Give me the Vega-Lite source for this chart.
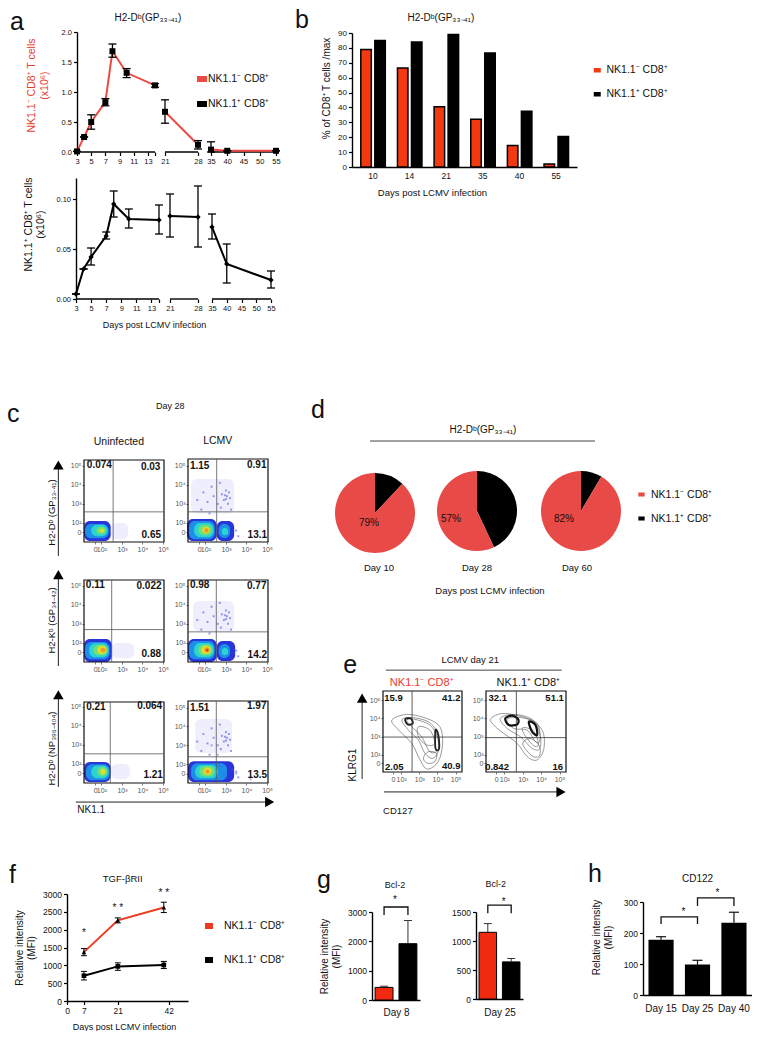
{"$schema":"https://vega.github.io/schema/vega-lite/v6.json","padding":0,"background":"white","bounds":"flush","spacing":0,
"resolve":{"scale":{"color":"independent","shape":"independent","strokeWidth":"independent"},"legend":{"color":"independent","shape":"independent","strokeWidth":"independent"}},
"datasets":{"one":[{}],"none":[],
"a1":[{"d":3,"v":0.01,"lo":0.01,"hi":0.01,"g":1,"s":"NK1.1⁻ CD8⁺"},{"d":4,"v":0.25,"lo":0.25,"hi":0.25,"g":1,"s":"NK1.1⁻ CD8⁺"},{"d":5,"v":0.5,"lo":0.38,"hi":0.62,"g":1,"s":"NK1.1⁻ CD8⁺"},{"d":7,"v":0.83,"lo":0.77,"hi":0.89,"g":1,"s":"NK1.1⁻ CD8⁺"},{"d":8,"v":1.68,"lo":1.58,"hi":1.8,"g":1,"s":"NK1.1⁻ CD8⁺"},{"d":10,"v":1.32,"lo":1.24,"hi":1.39,"g":1,"s":"NK1.1⁻ CD8⁺"},{"d":14,"v":1.11,"lo":1.08,"hi":1.14,"g":1,"s":"NK1.1⁻ CD8⁺"},{"d":21,"v":0.67,"lo":0.48,"hi":0.87,"g":2,"s":"NK1.1⁻ CD8⁺"},{"d":28,"v":0.12,"lo":0.05,"hi":0.19,"g":2,"s":"NK1.1⁻ CD8⁺"},{"d":35,"v":0.04,"lo":0,"hi":0.17,"g":3,"s":"NK1.1⁻ CD8⁺"},{"d":40,"v":0.02,"lo":0.02,"hi":0.02,"g":3,"s":"NK1.1⁻ CD8⁺"},{"d":55,"v":0.02,"lo":0.02,"hi":0.02,"g":3,"s":"NK1.1⁻ CD8⁺"}],
"a2":[{"d":3,"v":0.005,"lo":0.005,"hi":0.005,"g":1},{"d":4,"v":0.03,"lo":0.03,"hi":0.03,"g":1},{"d":5,"v":0.042,"lo":0.034,"hi":0.051,"g":1},{"d":7,"v":0.063,"lo":0.06,"hi":0.067,"g":1},{"d":8,"v":0.095,"lo":0.082,"hi":0.108,"g":1},{"d":10,"v":0.08,"lo":0.071,"hi":0.09,"g":1},{"d":14,"v":0.079,"lo":0.065,"hi":0.094,"g":1},{"d":21,"v":0.083,"lo":0.062,"hi":0.105,"g":2},{"d":28,"v":0.082,"lo":0.052,"hi":0.113,"g":2},{"d":35,"v":0.072,"lo":0.06,"hi":0.085,"g":3},{"d":40,"v":0.035,"lo":0.016,"hi":0.055,"g":3},{"d":55,"v":0.019,"lo":0.011,"hi":0.028,"g":3}],
"seg":[{"a":3,"b":14},{"a":21,"b":28},{"a":35,"b":55}],
"scA":[{"x":1.6,"y":3.2},{"x":1.9,"y":3.6},{"x":2.1,"y":3.1},{"x":2.3,"y":3.9},{"x":2.4,"y":3.4},{"x":2.6,"y":3.0},{"x":2.7,"y":4.1},{"x":2.8,"y":3.5},{"x":2.9,"y":3.2},{"x":3.0,"y":3.7},{"x":3.05,"y":3.4},{"x":3.1,"y":3.0},{"x":3.15,"y":3.6},{"x":3.2,"y":3.3},{"x":2.95,"y":3.45},{"x":3.0,"y":3.25},{"x":2.75,"y":2.8},{"x":3.25,"y":2.7},{"x":1.8,"y":2.7},{"x":2.2,"y":2.5},{"x":3.5,"y":1.6},{"x":3.6,"y":1.3}],
"scB":[{"x":3.0,"y":1.3},{"x":3.3,"y":1.7},{"x":3.5,"y":1.5},{"x":2.7,"y":1.9},{"x":2.9,"y":1.5},{"x":4.2,"y":1.2},{"x":2.3,"y":3.0},{"x":2.6,"y":2.5}],
"e1":[{"c":"a","o":1,"x":1.49,"y":3.91,"l":1},{"c":"a","o":2,"x":2.31,"y":4.22,"l":1},{"c":"a","o":3,"x":3.4,"y":4.0,"l":1},{"c":"a","o":4,"x":4.13,"y":3.55,"l":1},{"c":"a","o":5,"x":4.28,"y":2.64,"l":1},{"c":"a","o":6,"x":4.04,"y":1.64,"l":1},{"c":"a","o":7,"x":3.44,"y":1.23,"l":1},{"c":"a","o":8,"x":3.04,"y":1.73,"l":1},{"c":"a","o":9,"x":2.58,"y":2.64,"l":1},{"c":"a","o":10,"x":1.85,"y":3.37,"l":1},
{"c":"b","o":1,"x":2.04,"y":3.91,"l":1},{"c":"b","o":2,"x":2.58,"y":4.05,"l":1},{"c":"b","o":3,"x":3.49,"y":3.82,"l":1},{"c":"b","o":4,"x":3.95,"y":3.27,"l":1},{"c":"b","o":5,"x":4.09,"y":2.36,"l":1},{"c":"b","o":6,"x":3.76,"y":1.82,"l":1},{"c":"b","o":7,"x":3.31,"y":2.09,"l":1},{"c":"b","o":8,"x":2.95,"y":2.82,"l":1},{"c":"b","o":9,"x":2.4,"y":3.36,"l":1},
{"c":"c","o":1,"x":2.31,"y":3.91,"l":1},{"c":"c","o":2,"x":2.76,"y":3.95,"l":1},{"c":"c","o":3,"x":3.58,"y":3.64,"l":1},{"c":"c","o":4,"x":3.98,"y":3.0,"l":1},{"c":"c","o":5,"x":4.04,"y":2.27,"l":1},{"c":"c","o":6,"x":3.58,"y":2.18,"l":1},{"c":"c","o":7,"x":3.13,"y":3.0,"l":1},{"c":"c","o":8,"x":2.58,"y":3.55,"l":1},
{"c":"d","o":1,"x":2.95,"y":3.55,"l":1},{"c":"d","o":2,"x":3.58,"y":3.36,"l":1},{"c":"d","o":3,"x":3.85,"y":2.64,"l":1},{"c":"d","o":4,"x":3.4,"y":2.55,"l":1},{"c":"d","o":5,"x":2.95,"y":3.0,"l":1},
{"c":"e","o":1,"x":3.22,"y":1.82,"l":1},{"c":"e","o":2,"x":3.44,"y":1.55,"l":1},{"c":"e","o":3,"x":3.85,"y":1.64,"l":1},{"c":"e","o":4,"x":3.95,"y":2.09,"l":1},{"c":"e","o":5,"x":3.49,"y":2.18,"l":1},
{"c":"f","o":1,"x":2.22,"y":3.95,"l":2},{"c":"f","o":2,"x":2.53,"y":4.0,"l":2},{"c":"f","o":3,"x":2.64,"y":3.73,"l":2},{"c":"f","o":4,"x":2.36,"y":3.67,"l":2},
{"c":"g","o":1,"x":3.89,"y":3.36,"l":2},{"c":"g","o":2,"x":4.05,"y":3.09,"l":2},{"c":"g","o":3,"x":4.09,"y":2.36,"l":2},{"c":"g","o":4,"x":3.89,"y":2.36,"l":2}],
"e2":[{"c":"a","o":1,"x":1.27,"y":4.0,"l":1},{"c":"a","o":2,"x":1.96,"y":4.27,"l":1},{"c":"a","o":3,"x":3.24,"y":4.0,"l":1},{"c":"a","o":4,"x":4.05,"y":3.36,"l":1},{"c":"a","o":5,"x":4.15,"y":2.36,"l":1},{"c":"a","o":6,"x":3.78,"y":1.73,"l":1},{"c":"a","o":7,"x":3.24,"y":1.91,"l":1},{"c":"a","o":8,"x":2.69,"y":2.64,"l":1},{"c":"a","o":9,"x":1.96,"y":3.18,"l":1},{"c":"a","o":10,"x":1.42,"y":3.64,"l":1},
{"c":"b","o":1,"x":1.78,"y":4.0,"l":1},{"c":"b","o":2,"x":2.51,"y":4.22,"l":1},{"c":"b","o":3,"x":3.51,"y":3.95,"l":1},{"c":"b","o":4,"x":3.93,"y":3.18,"l":1},{"c":"b","o":5,"x":3.93,"y":2.36,"l":1},{"c":"b","o":6,"x":3.51,"y":2.36,"l":1},{"c":"b","o":7,"x":2.87,"y":3.0,"l":1},{"c":"b","o":8,"x":2.15,"y":3.45,"l":1},
{"c":"c","o":1,"x":2.15,"y":3.95,"l":1},{"c":"c","o":2,"x":2.87,"y":4.05,"l":1},{"c":"c","o":3,"x":3.78,"y":3.73,"l":1},{"c":"c","o":4,"x":3.93,"y":2.82,"l":1},{"c":"c","o":5,"x":3.69,"y":2.73,"l":1},{"c":"c","o":6,"x":3.24,"y":3.36,"l":1},{"c":"c","o":7,"x":2.51,"y":3.45,"l":1},
{"c":"d","o":1,"x":3.0,"y":3.5,"l":1},{"c":"d","o":2,"x":3.6,"y":3.3,"l":1},{"c":"d","o":3,"x":3.85,"y":2.6,"l":1},{"c":"d","o":4,"x":3.6,"y":2.5,"l":1},{"c":"d","o":5,"x":3.1,"y":3.1,"l":1},
{"c":"e","o":1,"x":3.0,"y":2.6,"l":1},{"c":"e","o":2,"x":3.5,"y":1.95,"l":1},{"c":"e","o":3,"x":3.9,"y":1.95,"l":1},{"c":"e","o":4,"x":3.9,"y":2.5,"l":1},{"c":"e","o":5,"x":3.4,"y":2.9,"l":1},
{"c":"f","o":1,"x":2.05,"y":4.0,"l":2},{"c":"f","o":2,"x":2.42,"y":4.15,"l":2},{"c":"f","o":3,"x":2.75,"y":3.95,"l":2},{"c":"f","o":4,"x":2.69,"y":3.67,"l":2},{"c":"f","o":5,"x":2.24,"y":3.64,"l":2},
{"c":"g","o":1,"x":3.33,"y":3.82,"l":2},{"c":"g","o":2,"x":3.69,"y":3.64,"l":2},{"c":"g","o":3,"x":3.78,"y":3.09,"l":2},{"c":"g","o":4,"x":3.51,"y":3.27,"l":2}]
},
"config":{"font":"Liberation Sans","view":{"stroke":null},
"axis":{"grid":false,"domainColor":"black","tickColor":"black","domainWidth":1.4,"tickWidth":1.2,"tickSize":3.5,"labelColor":"#111","titleColor":"#111","labelFontSize":8,"titleFontSize":10,"titleFontWeight":"normal","labelPadding":2,"labelFlush":false},
"legend":{"labelFontSize":10.5,"labelColor":"#111","labelLimit":200,"symbolOpacity":1},
"text":{"fontSize":10,"color":"#111"},
"style":{"flow":{"domain":false,"labelFontSize":7,"labelColor":"#555","tickColor":"#555","tickSize":2,"tickWidth":0.8,"labelPadding":1,"titleFontSize":9.5}}},
"vconcat":[
{"bounds":"flush","spacing":0,"resolve":{"scale":{"color":"independent"},"legend":{"color":"independent"}},"hconcat":[
{"width":77,"height":1,"data":{"name":"none"},"mark":"rect"},
{"width":275,"height":152,"data":{"name":"a1"},"layer":[
{"data":{"name":"seg"},"mark":{"type":"rule","color":"black","strokeWidth":1.4},"encoding":{"x":{"field":"a","type":"quantitative","scale":{"domain":[3,14,21,28,35,55],"range":[0,78,88,121,134,199],"nice":false,"zero":false},"axis":{"values":[3,5,7,9,11,13,14,21,28,35,40,45,50,55],"tickCount":30,"labelExpr":"datum.value==14?'':datum.value","domain":false,"title":null,"labelFontSize":7.5,"labelOverlap":false}},"x2":{"field":"b"},"y":{"datum":0,"scale":{"domain":[0,2],"range":[152,32],"nice":false},"axis":{"values":[0,0.5,1,1.5,2],"tickCount":30,"format":".1f","title":["NK1.1⁻ CD8⁺ T cells","(x10⁶)"],"titleColor":"#e8402f","titleFontSize":10.5,"titleY":85,"titlePadding":12,"labelFontSize":7.5,"labelOverlap":false}}}},
{"mark":{"type":"line","strokeWidth":2},"encoding":{"x":{"field":"d","type":"quantitative"},"y":{"field":"v","type":"quantitative"},"detail":{"field":"g"},"color":{"field":"s","type":"nominal","scale":{"domain":["NK1.1⁻ CD8⁺","NK1.1⁺ CD8⁺"],"range":["#ee4a44","black"]},"legend":{"title":null,"orient":"none","legendX":117,"legendY":71,"symbolType":"stroke","symbolSize":100,"symbolStrokeWidth":6,"rowPadding":1,"labelOffset":-2}}}},
{"mark":{"type":"rule","color":"black","strokeWidth":1.3},"encoding":{"x":{"field":"d","type":"quantitative"},"y":{"field":"lo","type":"quantitative"},"y2":{"field":"hi"}}},
{"mark":{"type":"tick","orient":"horizontal","size":8,"thickness":1.3,"color":"black","opacity":1},"encoding":{"x":{"field":"d","type":"quantitative"},"y":{"field":"lo","type":"quantitative"}}},
{"mark":{"type":"tick","orient":"horizontal","size":8,"thickness":1.3,"color":"black","opacity":1},"encoding":{"x":{"field":"d","type":"quantitative"},"y":{"field":"hi","type":"quantitative"}}},
{"mark":{"type":"point","shape":"square","filled":true,"color":"black","size":36,"opacity":1},"encoding":{"x":{"field":"d","type":"quantitative"},"y":{"field":"v","type":"quantitative"}}},
{"data":{"name":"one"},"mark":{"type":"text","text":"H2-Dᵇ(GP₃₃₋₄₁)","fontSize":10,"dy":-14},"encoding":{"x":{"datum":13},"y":{"datum":2}}},
{"data":{"name":"one"},"mark":{"type":"text","text":"a","fontSize":25,"dx":-60,"dy":-10},"encoding":{"x":{"datum":3},"y":{"datum":2}}}]},
{"width":225,"height":167,"data":{"values":[{"d":"10","s":"NK1.1⁻ CD8⁺","v":79},{"d":"10","s":"NK1.1⁺ CD8⁺","v":85},{"d":"14","s":"NK1.1⁻ CD8⁺","v":66.5},{"d":"14","s":"NK1.1⁺ CD8⁺","v":84},{"d":"21","s":"NK1.1⁻ CD8⁺","v":40.5},{"d":"21","s":"NK1.1⁺ CD8⁺","v":89},{"d":"35","s":"NK1.1⁻ CD8⁺","v":32},{"d":"35","s":"NK1.1⁺ CD8⁺","v":76.5},{"d":"40","s":"NK1.1⁻ CD8⁺","v":14.5},{"d":"40","s":"NK1.1⁺ CD8⁺","v":37.5},{"d":"55","s":"NK1.1⁻ CD8⁺","v":2},{"d":"55","s":"NK1.1⁺ CD8⁺","v":20.5}]},"layer":[
{"mark":{"type":"bar","width":10.5,"stroke":"black","strokeWidth":1.5},"encoding":{"x":{"field":"d","type":"nominal","scale":{"domain":["10","14","21","35","40","55"],"range":[0,225],"paddingInner":0,"paddingOuter":0.07},"axis":{"labelAngle":0,"ticks":false,"title":"Days post LCMV infection","titleX":80,"titleFontSize":9.5,"titlePadding":8,"labelFontSize":8.5,"labelPadding":4}},"xOffset":{"field":"s","scale":{"domain":["NK1.1⁻ CD8⁺","NK1.1⁺ CD8⁺"],"range":[4.5,32.5]}},"y":{"field":"v","type":"quantitative","stack":null,"scale":{"domain":[0,90],"range":[167,33],"nice":false},"axis":{"values":[0,10,20,30,40,50,60,70,80,90],"tickCount":30,"title":"% of CD8⁺ T cells /max","titleY":88,"titlePadding":6,"labelFontSize":8,"labelOverlap":false}},"color":{"field":"s","type":"nominal","scale":{"domain":["NK1.1⁻ CD8⁺","NK1.1⁺ CD8⁺"],"range":["#f23a10","black"]},"legend":{"title":null,"orient":"none","legendX":240,"legendY":65,"symbolType":"M-0.7,-0.45H0.7V0.45H-0.7Z","symbolSize":100,"rowPadding":13,"symbolStrokeWidth":0}}}},
{"data":{"name":"one"},"mark":{"type":"text","text":"H2-Dᵇ(GP₃₃₋₄₁)","fontSize":10,"dx":68,"dy":-15},"encoding":{"x":{"datum":"10"},"y":{"datum":90}}},
{"data":{"name":"one"},"mark":{"type":"text","text":"b","fontSize":25,"dx":-71,"dy":-13},"encoding":{"x":{"datum":"10"},"y":{"datum":90}}}]}]},

{"bounds":"flush","spacing":0,"hconcat":[
{"width":76,"height":1,"data":{"name":"none"},"mark":"rect"},
{"width":200,"height":299,"data":{"name":"a2"},"layer":[
{"data":{"name":"seg"},"mark":{"type":"rule","color":"black","strokeWidth":1.4},"encoding":{"x":{"field":"a","type":"quantitative","scale":{"domain":[3,14,21,28,35,55],"range":[0,83,94,122,136,195],"nice":false,"zero":false},"axis":{"values":[3,5,7,9,11,13,14,21,28,35,40,45,50,55],"tickCount":30,"labelExpr":"datum.value==14?'':datum.value","domain":false,"title":"Days post LCMV infection","titleX":78,"titleFontSize":9,"titlePadding":8,"labelFontSize":7.5,"labelOverlap":false}},"x2":{"field":"b"},"y":{"datum":0,"scale":{"domain":[0,0.121],"range":[299,178],"nice":false},"axis":{"values":[0,0.05,0.1],"tickCount":30,"format":".2f","title":["NK1.1⁺ CD8⁺ T cells","(x10⁶)"],"titleFontSize":10.5,"titleY":224,"titlePadding":10,"labelFontSize":7.5,"labelOverlap":false}}}},
{"mark":{"type":"line","strokeWidth":2,"color":"black"},"encoding":{"x":{"field":"d","type":"quantitative"},"y":{"field":"v","type":"quantitative"},"detail":{"field":"g"}}},
{"mark":{"type":"rule","color":"black","strokeWidth":1.3},"encoding":{"x":{"field":"d","type":"quantitative"},"y":{"field":"lo","type":"quantitative"},"y2":{"field":"hi"}}},
{"mark":{"type":"tick","orient":"horizontal","size":8,"thickness":1.3,"color":"black","opacity":1},"encoding":{"x":{"field":"d","type":"quantitative"},"y":{"field":"lo","type":"quantitative"}}},
{"mark":{"type":"tick","orient":"horizontal","size":8,"thickness":1.3,"color":"black","opacity":1},"encoding":{"x":{"field":"d","type":"quantitative"},"y":{"field":"hi","type":"quantitative"}}},
{"mark":{"type":"point","shape":"diamond","filled":true,"color":"black","size":28,"opacity":1},"encoding":{"x":{"field":"d","type":"quantitative"},"y":{"field":"v","type":"quantitative"}}}]}]},

{"bounds":"flush","spacing":0,"resolve":{"scale":{"color":"independent"},"legend":{"color":"independent"}},"hconcat":[
{"width":84,"height":1,"data":{"name":"none"},"mark":"rect"},
{"width":104,"height":542,"layer":[
{"data":{"values":[{"x0":2.45,"x1":3.3,"y0":1.15,"y1":2.0,"l":0},{"x0":1.15,"x1":2.45,"y0":1.05,"y1":2.1,"l":1},{"x0":1.2,"x1":2.35,"y0":1.2,"y1":1.95,"l":2},{"x0":1.5,"x1":2.3,"y0":1.3,"y1":1.9,"l":3},{"x0":1.75,"x1":2.2,"y0":1.4,"y1":1.8,"l":4},{"x0":1.9,"x1":2.15,"y0":1.5,"y1":1.7,"l":5}]},"mark":{"type":"rect","cornerRadius":6},"encoding":{"x":{"field":"x0","type":"quantitative","scale":{"domain":[1.15,5.05],"range":[0,80],"nice":false,"zero":false},"axis":{"style":"flow","labelOverlap":false,"tickCount":30,"values":[1.7,2,3,4,5],"labelExpr":"datum.value<2?'0':'10'+['²','³','⁴','⁵'][datum.value-2]","title":null}},"x2":{"field":"x1"},"y":{"field":"y0","type":"quantitative","scale":{"domain":[1,5.3],"range":[542,460],"nice":false,"zero":false},"axis":{"style":"flow","labelOverlap":false,"tickCount":30,"values":[1.5,2,3,4,5],"labelExpr":"datum.value<2?'0':'10'+['²','³','⁴','⁵'][datum.value-2]","title":"H2-Dᵇ (GP₃₃₋₄₁)","titleY":512,"titlePadding":14}},"y2":{"field":"y1"},"color":{"field":"l","type":"ordinal","scale":{"domain":[0,1,2,3,4,5,6,7],"range":["#eeeefd","#2a35d8","#1c8fe8","#2bd4d0","#6fe07a","#dce02a","#f5982a","#e83a20"]},"legend":null}}},
{"data":{"name":"one"},"mark":{"type":"rect","filled":false,"stroke":"#111","strokeWidth":1.2},"encoding":{"x":{"datum":1.15},"x2":{"datum":5.05},"y":{"datum":1},"y2":{"datum":5.3}}},
{"data":{"name":"one"},"mark":{"type":"rule","color":"#555","strokeWidth":0.8},"encoding":{"x":{"datum":2.57},"y":{"datum":1},"y2":{"datum":5.3}}},
{"data":{"name":"one"},"mark":{"type":"rule","color":"#555","strokeWidth":0.8},"encoding":{"x":{"datum":1.15},"x2":{"datum":5.05},"y":{"datum":2.58}}},
{"data":{"values":[{"t":"0.074","x":1.9,"y":5.03},{"t":"0.03","x":4.4,"y":4.95},{"t":"0.65","x":4.43,"y":1.39}]},"mark":{"type":"text","fontWeight":"bold","fontSize":10},"encoding":{"text":{"field":"t"},"x":{"field":"x","type":"quantitative"},"y":{"field":"y","type":"quantitative"}}},
{"data":{"name":"one"},"mark":{"type":"rule","color":"#222","strokeWidth":1},"encoding":{"x":{"datum":-0.1},"y":{"datum":5.04},"y2":{"datum":0.27}}},
{"data":{"name":"one"},"mark":{"type":"point","shape":"triangle-up","filled":true,"color":"black","size":110,"opacity":1},"encoding":{"x":{"datum":-0.1},"y":{"datum":5.04}}},
{"data":{"name":"one"},"mark":{"type":"text","text":"Uninfected","fontSize":10.5},"encoding":{"x":{"datum":2.85},"y":{"datum":6.24}}},
{"data":{"name":"one"},"mark":{"type":"text","text":"Day 28","fontSize":9},"encoding":{"x":{"datum":5.35},"y":{"datum":8.13}}},
{"data":{"name":"one"},"mark":{"type":"text","text":"c","fontSize":25},"encoding":{"x":{"datum":-2.3},"y":{"datum":7.7}}}]},
{"width":136,"height":542,"layer":[
{"data":{"values":[{"x0":1.3,"x1":3.4,"y0":2.5,"y1":4.3,"l":0},{"x0":1.1,"x1":2.55,"y0":1.05,"y1":2.2,"l":1},{"x0":1.2,"x1":2.45,"y0":1.15,"y1":2.1,"l":2},{"x0":1.45,"x1":2.4,"y0":1.25,"y1":2.0,"l":3},{"x0":1.65,"x1":2.3,"y0":1.35,"y1":1.9,"l":4},{"x0":1.85,"x1":2.2,"y0":1.45,"y1":1.8,"l":5},{"x0":1.95,"x1":2.15,"y0":1.5,"y1":1.72,"l":6},{"x0":2.55,"x1":3.4,"y0":1.05,"y1":2.1,"l":1},{"x0":2.65,"x1":3.2,"y0":1.2,"y1":1.95,"l":2},{"x0":2.8,"x1":3.1,"y0":1.35,"y1":1.75,"l":3}]},"mark":{"type":"rect","cornerRadius":6},"encoding":{"x":{"field":"x0","type":"quantitative","scale":{"domain":[1.15,5.05],"range":[0,80],"nice":false,"zero":false},"axis":{"style":"flow","labelOverlap":false,"tickCount":30,"values":[1.7,2,3,4,5],"labelExpr":"datum.value<2?'0':'10'+['²','³','⁴','⁵'][datum.value-2]","title":null}},"x2":{"field":"x1"},"y":{"field":"y0","type":"quantitative","scale":{"domain":[1,5.35],"range":[542,459],"nice":false,"zero":false},"axis":{"style":"flow","labelOverlap":false,"tickCount":30,"values":[1.5,2,3,4,5],"labelExpr":"datum.value<2?'0':'10'+['²','³','⁴','⁵'][datum.value-2]","title":null}},"y2":{"field":"y1"},"color":{"field":"l","type":"ordinal","scale":{"domain":[0,1,2,3,4,5,6,7],"range":["#eeeefd","#2a35d8","#1c8fe8","#2bd4d0","#6fe07a","#dce02a","#f5982a","#e83a20"]},"legend":null}}},
{"data":{"name":"scA"},"mark":{"type":"point","shape":"square","filled":true,"color":"#5a5ae0","size":4,"opacity":0.6},"encoding":{"x":{"field":"x","type":"quantitative"},"y":{"field":"y","type":"quantitative"}}},
{"data":{"name":"one"},"mark":{"type":"rect","filled":false,"stroke":"#111","strokeWidth":1.2},"encoding":{"x":{"datum":1.15},"x2":{"datum":5.05},"y":{"datum":1},"y2":{"datum":5.35}}},
{"data":{"name":"one"},"mark":{"type":"rule","color":"#555","strokeWidth":0.8},"encoding":{"x":{"datum":2.55},"y":{"datum":1},"y2":{"datum":5.35}}},
{"data":{"name":"one"},"mark":{"type":"rule","color":"#555","strokeWidth":0.8},"encoding":{"x":{"datum":1.15},"x2":{"datum":5.05},"y":{"datum":2.58}}},
{"data":{"values":[{"t":"1.15","x":1.72,"y":5.0},{"t":"0.91","x":4.5,"y":5.03},{"t":"13.1","x":4.53,"y":1.39}]},"mark":{"type":"text","fontWeight":"bold","fontSize":10},"encoding":{"text":{"field":"t"},"x":{"field":"x","type":"quantitative"},"y":{"field":"y","type":"quantitative"}}},
{"data":{"name":"one"},"mark":{"type":"text","text":"LCMV","fontSize":10.5},"encoding":{"x":{"datum":2.6},"y":{"datum":6.3}}}]},
{"width":102,"height":553,"data":{"values":[{"s":"NK1.1⁺ CD8⁺","v":12,"o":1},{"s":"NK1.1⁻ CD8⁺","v":88,"o":2}]},"layer":[
{"mark":{"type":"arc","outerRadius":40},"encoding":{"x":{"datum":0,"scale":{"domain":[-40,40],"range":[11,91]},"axis":null},"y":{"datum":0,"scale":{"domain":[-40,40],"range":[553,473]},"axis":null},"theta":{"field":"v","type":"quantitative"},"order":{"field":"o"},"color":{"field":"s","type":"nominal","scale":{"domain":["NK1.1⁻ CD8⁺","NK1.1⁺ CD8⁺"],"range":["#e84a48","black"]},"legend":null}}},
{"data":{"name":"one"},"mark":{"type":"text","text":"79%","fontSize":10},"encoding":{"x":{"datum":-6,"axis":null},"y":{"datum":-10,"axis":null}}},
{"data":{"name":"one"},"mark":{"type":"text","text":"Day 10","fontSize":9.5},"encoding":{"x":{"datum":4,"axis":null},"y":{"datum":-55,"axis":null}}},
{"data":{"name":"one"},"mark":{"type":"text","text":"d","fontSize":25},"encoding":{"x":{"datum":-57,"axis":null},"y":{"datum":103,"axis":null}}}]},
{"width":102,"height":551,"data":{"values":[{"s":"NK1.1⁺ CD8⁺","v":43,"o":1},{"s":"NK1.1⁻ CD8⁺","v":57,"o":2}]},"layer":[
{"mark":{"type":"arc","outerRadius":40},"encoding":{"x":{"datum":0,"scale":{"domain":[-40,40],"range":[11,91]},"axis":null},"y":{"datum":0,"scale":{"domain":[-40,40],"range":[551,471]},"axis":null},"theta":{"field":"v","type":"quantitative"},"order":{"field":"o"},"color":{"field":"s","type":"nominal","scale":{"domain":["NK1.1⁻ CD8⁺","NK1.1⁺ CD8⁺"],"range":["#e84a48","black"]},"legend":null}}},
{"data":{"name":"one"},"mark":{"type":"text","text":"57%","fontSize":10},"encoding":{"x":{"datum":-26,"axis":null},"y":{"datum":-8,"axis":null}}},
{"data":{"name":"one"},"mark":{"type":"text","text":"Day 28","fontSize":9.5},"encoding":{"x":{"datum":0,"axis":null},"y":{"datum":-57,"axis":null}}},
{"data":{"name":"one"},"mark":{"type":"text","text":"Days post LCMV infection","fontSize":9.5},"encoding":{"x":{"datum":13,"axis":null},"y":{"datum":-80,"axis":null}}},
{"data":{"name":"one"},"mark":{"type":"text","text":"H2-Dᵇ(GP₃₃₋₄₁)","fontSize":10},"encoding":{"x":{"datum":6,"axis":null},"y":{"datum":81,"axis":null}}},
{"data":{"name":"one"},"mark":{"type":"rule","color":"#444","strokeWidth":1},"encoding":{"x":{"datum":-107,"axis":null},"x2":{"datum":118},"y":{"datum":70,"axis":null}}}]},
{"width":106,"height":551,"data":{"values":[{"s":"NK1.1⁺ CD8⁺","v":8.5,"o":1},{"s":"NK1.1⁻ CD8⁺","v":91.5,"o":2}]},"layer":[
{"mark":{"type":"arc","outerRadius":40},"encoding":{"x":{"datum":0,"scale":{"domain":[-40,40],"range":[13,93]},"axis":null},"y":{"datum":0,"scale":{"domain":[-40,40],"range":[551,471]},"axis":null},"theta":{"field":"v","type":"quantitative"},"order":{"field":"o"},"color":{"field":"s","type":"nominal","scale":{"domain":["NK1.1⁻ CD8⁺","NK1.1⁺ CD8⁺"],"range":["#e84a48","black"]},"legend":{"title":null,"orient":"none","legendX":108,"legendY":489,"symbolType":"M-0.7,-0.45H0.7V0.45H-0.7Z","symbolSize":81,"rowPadding":13}}}},
{"data":{"name":"one"},"mark":{"type":"text","text":"82%","fontSize":10},"encoding":{"x":{"datum":-17,"axis":null},"y":{"datum":-8,"axis":null}}},
{"data":{"name":"one"},"mark":{"type":"text","text":"Day 60","fontSize":9.5},"encoding":{"x":{"datum":-4,"axis":null},"y":{"datum":-57,"axis":null}}}]}]},

{"bounds":"flush","spacing":0,"resolve":{"scale":{"color":"independent"},"legend":{"color":"independent"}},"hconcat":[
{"width":84,"height":1,"data":{"name":"none"},"mark":"rect"},
{"width":104,"height":662,"layer":[
{"data":{"values":[{"x0":2.5,"x1":3.6,"y0":1.2,"y1":2.0,"l":0},{"x0":1.15,"x1":2.5,"y0":1.0,"y1":2.2,"l":1},{"x0":1.2,"x1":2.4,"y0":1.15,"y1":2.05,"l":2},{"x0":1.4,"x1":2.35,"y0":1.25,"y1":1.98,"l":3},{"x0":1.6,"x1":2.3,"y0":1.35,"y1":1.9,"l":4},{"x0":1.8,"x1":2.25,"y0":1.42,"y1":1.85,"l":5},{"x0":1.95,"x1":2.2,"y0":1.5,"y1":1.75,"l":6}]},"mark":{"type":"rect","cornerRadius":6},"encoding":{"x":{"field":"x0","type":"quantitative","scale":{"domain":[1.15,5.05],"range":[0,80],"nice":false,"zero":false},"axis":{"style":"flow","labelOverlap":false,"tickCount":30,"values":[1.7,2,3,4,5],"labelExpr":"datum.value<2?'0':'10'+['²','³','⁴','⁵'][datum.value-2]","title":null}},"x2":{"field":"x1"},"y":{"field":"y0","type":"quantitative","scale":{"domain":[1,5.3],"range":[662,580],"nice":false,"zero":false},"axis":{"style":"flow","labelOverlap":false,"tickCount":30,"values":[1.5,2,3,4,5],"labelExpr":"datum.value<2?'0':'10'+['²','³','⁴','⁵'][datum.value-2]","title":"H2-Kᵇ (GP₃₄₋₄₂)","titleY":620,"titlePadding":14}},"y2":{"field":"y1"},"color":{"field":"l","type":"ordinal","scale":{"domain":[0,1,2,3,4,5,6,7],"range":["#eeeefd","#2a35d8","#1c8fe8","#2bd4d0","#6fe07a","#dce02a","#f5982a","#e83a20"]},"legend":null}}},
{"data":{"name":"one"},"mark":{"type":"rect","filled":false,"stroke":"#111","strokeWidth":1.2},"encoding":{"x":{"datum":1.15},"x2":{"datum":5.05},"y":{"datum":1},"y2":{"datum":5.3}}},
{"data":{"name":"one"},"mark":{"type":"rule","color":"#555","strokeWidth":0.8},"encoding":{"x":{"datum":2.5},"y":{"datum":1},"y2":{"datum":5.3}}},
{"data":{"name":"one"},"mark":{"type":"rule","color":"#555","strokeWidth":0.8},"encoding":{"x":{"datum":1.15},"x2":{"datum":5.05},"y":{"datum":2.7}}},
{"data":{"values":[{"t":"0.11","x":1.7,"y":5.02},{"t":"0.022","x":4.32,"y":4.98},{"t":"0.88","x":4.43,"y":1.44}]},"mark":{"type":"text","fontWeight":"bold","fontSize":10},"encoding":{"text":{"field":"t"},"x":{"field":"x","type":"quantitative"},"y":{"field":"y","type":"quantitative"}}},
{"data":{"name":"one"},"mark":{"type":"rule","color":"#222","strokeWidth":1},"encoding":{"x":{"datum":-0.1},"y":{"datum":5.58},"y2":{"datum":0.79}}},
{"data":{"name":"one"},"mark":{"type":"point","shape":"triangle-up","filled":true,"color":"black","size":110,"opacity":1},"encoding":{"x":{"datum":-0.1},"y":{"datum":5.58}}}]},
{"width":80,"height":662,"layer":[
{"data":{"values":[{"x0":1.4,"x1":3.4,"y0":2.6,"y1":4.2,"l":0},{"x0":1.15,"x1":2.55,"y0":1.0,"y1":2.2,"l":1},{"x0":1.2,"x1":2.45,"y0":1.15,"y1":2.1,"l":2},{"x0":1.45,"x1":2.4,"y0":1.25,"y1":2.0,"l":3},{"x0":1.65,"x1":2.35,"y0":1.35,"y1":1.92,"l":4},{"x0":1.8,"x1":2.25,"y0":1.42,"y1":1.85,"l":5},{"x0":1.95,"x1":2.2,"y0":1.5,"y1":1.78,"l":6},{"x0":2.02,"x1":2.15,"y0":1.55,"y1":1.7,"l":7},{"x0":2.55,"x1":3.45,"y0":1.05,"y1":2.1,"l":1},{"x0":2.65,"x1":3.2,"y0":1.2,"y1":1.95,"l":2},{"x0":2.8,"x1":3.1,"y0":1.35,"y1":1.75,"l":3}]},"mark":{"type":"rect","cornerRadius":6},"encoding":{"x":{"field":"x0","type":"quantitative","scale":{"domain":[1.15,5.05],"range":[0,80],"nice":false,"zero":false},"axis":{"style":"flow","labelOverlap":false,"tickCount":30,"values":[1.7,2,3,4,5],"labelExpr":"datum.value<2?'0':'10'+['²','³','⁴','⁵'][datum.value-2]","title":null}},"x2":{"field":"x1"},"y":{"field":"y0","type":"quantitative","scale":{"domain":[1,5.3],"range":[662,580],"nice":false,"zero":false},"axis":{"style":"flow","labelOverlap":false,"tickCount":30,"values":[1.5,2,3,4,5],"labelExpr":"datum.value<2?'0':'10'+['²','³','⁴','⁵'][datum.value-2]","title":null}},"y2":{"field":"y1"},"color":{"field":"l","type":"ordinal","scale":{"domain":[0,1,2,3,4,5,6,7],"range":["#eeeefd","#2a35d8","#1c8fe8","#2bd4d0","#6fe07a","#dce02a","#f5982a","#e83a20"]},"legend":null}}},
{"data":{"name":"scA"},"mark":{"type":"point","shape":"square","filled":true,"color":"#5a5ae0","size":4,"opacity":0.6},"encoding":{"x":{"field":"x","type":"quantitative"},"y":{"field":"y","type":"quantitative"}}},
{"data":{"name":"one"},"mark":{"type":"rect","filled":false,"stroke":"#111","strokeWidth":1.2},"encoding":{"x":{"datum":1.15},"x2":{"datum":5.05},"y":{"datum":1},"y2":{"datum":5.3}}},
{"data":{"name":"one"},"mark":{"type":"rule","color":"#555","strokeWidth":0.8},"encoding":{"x":{"datum":2.53},"y":{"datum":1},"y2":{"datum":5.3}}},
{"data":{"name":"one"},"mark":{"type":"rule","color":"#555","strokeWidth":0.8},"encoding":{"x":{"datum":1.15},"x2":{"datum":5.05},"y":{"datum":2.58}}},
{"data":{"values":[{"t":"0.98","x":1.72,"y":5.02},{"t":"0.77","x":4.5,"y":5.0},{"t":"14.2","x":4.53,"y":1.35}]},"mark":{"type":"text","fontWeight":"bold","fontSize":10},"encoding":{"text":{"field":"t"},"x":{"field":"x","type":"quantitative"},"y":{"field":"y","type":"quantitative"}}}]}]},

{"bounds":"flush","spacing":0,"resolve":{"scale":{"color":"independent","strokeWidth":"independent"},"legend":{"color":"independent","strokeWidth":"independent"}},"hconcat":[
{"width":84,"height":1,"data":{"name":"none"},"mark":"rect"},
{"width":104,"height":783,"layer":[
{"data":{"values":[{"x0":2.45,"x1":3.4,"y0":1.2,"y1":2.0,"l":0},{"x0":1.15,"x1":2.45,"y0":1.05,"y1":2.1,"l":1},{"x0":1.25,"x1":2.4,"y0":1.15,"y1":1.98,"l":2},{"x0":1.5,"x1":2.35,"y0":1.25,"y1":1.92,"l":3},{"x0":1.8,"x1":2.28,"y0":1.35,"y1":1.85,"l":4},{"x0":1.95,"x1":2.2,"y0":1.45,"y1":1.75,"l":5}]},"mark":{"type":"rect","cornerRadius":6},"encoding":{"x":{"field":"x0","type":"quantitative","scale":{"domain":[1.15,5.05],"range":[0,80],"nice":false,"zero":false},"axis":{"style":"flow","labelOverlap":false,"tickCount":30,"values":[1.7,2,3,4,5],"labelExpr":"datum.value<2?'0':'10'+['²','³','⁴','⁵'][datum.value-2]","title":null}},"x2":{"field":"x1"},"y":{"field":"y0","type":"quantitative","scale":{"domain":[1,5.25],"range":[783,702],"nice":false,"zero":false},"axis":{"style":"flow","labelOverlap":false,"tickCount":30,"values":[1.5,2,3,4,5],"labelExpr":"datum.value<2?'0':'10'+['²','³','⁴','⁵'][datum.value-2]","title":"H2-Dᵇ (NP₃₉₆₋₄₀₄)","titleY":748,"titlePadding":14}},"y2":{"field":"y1"},"color":{"field":"l","type":"ordinal","scale":{"domain":[0,1,2,3,4,5,6,7],"range":["#eeeefd","#2a35d8","#1c8fe8","#2bd4d0","#6fe07a","#dce02a","#f5982a","#e83a20"]},"legend":null}}},
{"data":{"name":"one"},"mark":{"type":"rect","filled":false,"stroke":"#111","strokeWidth":1.2},"encoding":{"x":{"datum":1.15},"x2":{"datum":5.05},"y":{"datum":1},"y2":{"datum":5.25}}},
{"data":{"name":"one"},"mark":{"type":"rule","color":"#555","strokeWidth":0.8},"encoding":{"x":{"datum":2.43},"y":{"datum":1},"y2":{"datum":5.25}}},
{"data":{"name":"one"},"mark":{"type":"rule","color":"#555","strokeWidth":0.8},"encoding":{"x":{"datum":1.15},"x2":{"datum":5.05},"y":{"datum":2.53}}},
{"data":{"values":[{"t":"0.21","x":1.73,"y":5.0},{"t":"0.064","x":4.35,"y":5.03},{"t":"1.21","x":4.52,"y":1.42}]},"mark":{"type":"text","fontWeight":"bold","fontSize":10},"encoding":{"text":{"field":"t"},"x":{"field":"x","type":"quantitative"},"y":{"field":"y","type":"quantitative"}}},
{"data":{"name":"one"},"mark":{"type":"rule","color":"#222","strokeWidth":1},"encoding":{"x":{"datum":-0.1},"y":{"datum":5.63},"y2":{"datum":0.79}}},
{"data":{"name":"one"},"mark":{"type":"point","shape":"triangle-up","filled":true,"color":"black","size":110,"opacity":1},"encoding":{"x":{"datum":-0.1},"y":{"datum":5.63}}},
{"data":{"name":"one"},"mark":{"type":"rule","color":"#222","strokeWidth":1},"encoding":{"x":{"datum":0.75},"x2":{"datum":10.05},"y":{"datum":0}}},
{"data":{"name":"one"},"mark":{"type":"point","shape":"triangle-right","filled":true,"color":"black","size":110,"opacity":1},"encoding":{"x":{"datum":10.2},"y":{"datum":0}}},
{"data":{"name":"one"},"mark":{"type":"text","text":"NK1.1","fontSize":10},"encoding":{"x":{"datum":1.5},"y":{"datum":-0.4}}}]},
{"width":195,"height":783,"layer":[
{"data":{"values":[{"x0":1.5,"x1":3.3,"y0":2.6,"y1":4.4,"l":0},{"x0":1.15,"x1":3.4,"y0":1.05,"y1":2.15,"l":1},{"x0":1.3,"x1":3.05,"y0":1.15,"y1":2.05,"l":2},{"x0":1.5,"x1":2.6,"y0":1.25,"y1":1.95,"l":3},{"x0":1.7,"x1":2.45,"y0":1.35,"y1":1.9,"l":4},{"x0":1.9,"x1":2.3,"y0":1.42,"y1":1.82,"l":5},{"x0":2.0,"x1":2.2,"y0":1.5,"y1":1.72,"l":6}]},"mark":{"type":"rect","cornerRadius":6},"encoding":{"x":{"field":"x0","type":"quantitative","scale":{"domain":[1.15,5.05],"range":[0,80],"nice":false,"zero":false},"axis":{"style":"flow","labelOverlap":false,"tickCount":30,"values":[1.7,2,3,4,5],"labelExpr":"datum.value<2?'0':'10'+['²','³','⁴','⁵'][datum.value-2]","title":null}},"x2":{"field":"x1"},"y":{"field":"y0","type":"quantitative","scale":{"domain":[1,5.35],"range":[783,701],"nice":false,"zero":false},"axis":{"style":"flow","labelOverlap":false,"tickCount":30,"values":[1.5,2,3,4,5],"labelExpr":"datum.value<2?'0':'10'+['²','³','⁴','⁵'][datum.value-2]","title":null}},"y2":{"field":"y1"},"color":{"field":"l","type":"ordinal","scale":{"domain":[0,1,2,3,4,5,6,7],"range":["#eeeefd","#2a35d8","#1c8fe8","#2bd4d0","#6fe07a","#dce02a","#f5982a","#e83a20"]},"legend":null}}},
{"data":{"name":"scA"},"mark":{"type":"point","shape":"square","filled":true,"color":"#5a5ae0","size":4,"opacity":0.6},"encoding":{"x":{"field":"x","type":"quantitative"},"y":{"field":"y","type":"quantitative"}}},
{"data":{"name":"scB"},"mark":{"type":"point","shape":"square","filled":true,"color":"#5a5ae0","size":4,"opacity":0.5},"encoding":{"x":{"field":"x","type":"quantitative"},"y":{"field":"y","type":"quantitative"}}},
{"data":{"name":"one"},"mark":{"type":"rect","filled":false,"stroke":"#111","strokeWidth":1.2},"encoding":{"x":{"datum":1.15},"x2":{"datum":5.05},"y":{"datum":1},"y2":{"datum":5.35}}},
{"data":{"name":"one"},"mark":{"type":"rule","color":"#555","strokeWidth":0.8},"encoding":{"x":{"datum":2.53},"y":{"datum":1},"y2":{"datum":5.35}}},
{"data":{"name":"one"},"mark":{"type":"rule","color":"#555","strokeWidth":0.8},"encoding":{"x":{"datum":1.15},"x2":{"datum":5.05},"y":{"datum":2.39}}},
{"data":{"values":[{"t":"1.51","x":1.72,"y":5.0},{"t":"1.97","x":4.5,"y":5.08},{"t":"13.5","x":4.53,"y":1.4}]},"mark":{"type":"text","fontWeight":"bold","fontSize":10},"encoding":{"text":{"field":"t"},"x":{"field":"x","type":"quantitative"},"y":{"field":"y","type":"quantitative"}}}]},
{"width":103,"height":772,"layer":[
{"data":{"name":"e1"},"mark":{"type":"line","interpolate":"cardinal-closed"},"encoding":{"x":{"field":"x","type":"quantitative","scale":{"domain":[1,5.35],"range":[0,79],"nice":false,"zero":false},"axis":{"style":"flow","labelOverlap":false,"tickCount":30,"values":[1.55,2,3,4,5],"labelExpr":"datum.value<2?'0':'10'+['²','³','⁴','⁵'][datum.value-2]","title":null}},"y":{"field":"y","type":"quantitative","scale":{"domain":[1.07,5.5],"range":[772,691],"nice":false,"zero":false},"axis":{"style":"flow","labelOverlap":false,"tickCount":30,"values":[1.55,2,3,4,5],"labelExpr":"datum.value<2?'0':'10'+['²','³','⁴','⁵'][datum.value-2]","title":null}},"detail":{"field":"c"},"order":{"field":"o"},"strokeWidth":{"field":"l","type":"ordinal","scale":{"domain":[1,2],"range":[0.6,1.8]},"legend":null},"color":{"field":"l","type":"ordinal","scale":{"domain":[1,2],"range":["#555","#222"]},"legend":null}}},
{"data":{"name":"one"},"mark":{"type":"rect","filled":false,"stroke":"#111","strokeWidth":1.2},"encoding":{"x":{"datum":1},"x2":{"datum":5.35},"y":{"datum":1.07},"y2":{"datum":5.5}}},
{"data":{"name":"one"},"mark":{"type":"rule","color":"#333","strokeWidth":0.8},"encoding":{"x":{"datum":2.6},"y":{"datum":1.07},"y2":{"datum":5.5}}},
{"data":{"name":"one"},"mark":{"type":"rule","color":"#333","strokeWidth":0.8},"encoding":{"x":{"datum":1},"x2":{"datum":5.35},"y":{"datum":2.98}}},
{"data":{"values":[{"t":"15.9","x":1.58,"y":5.09},{"t":"41.2","x":4.76,"y":5.09},{"t":"2.05","x":1.62,"y":1.36},{"t":"40.9","x":4.76,"y":1.4}]},"mark":{"type":"text","fontWeight":"bold","fontSize":9.5},"encoding":{"text":{"field":"t"},"x":{"field":"x","type":"quantitative"},"y":{"field":"y","type":"quantitative"}}},
{"data":{"name":"one"},"mark":{"type":"text","text":"LCMV day 21","fontSize":9.5},"encoding":{"x":{"datum":5.8},"y":{"datum":7.19}}},
{"data":{"name":"one"},"mark":{"type":"rule","color":"#444","strokeWidth":1},"encoding":{"x":{"datum":1.16},"x2":{"datum":10.84},"y":{"datum":6.64}}},
{"data":{"name":"one"},"mark":{"type":"text","text":"NK1.1⁻ CD8⁺","fontSize":11,"color":"#ee3a2e"},"encoding":{"x":{"datum":3.13},"y":{"datum":5.93}}},
{"data":{"name":"one"},"mark":{"type":"text","text":"e","fontSize":25},"encoding":{"x":{"datum":-0.8},"y":{"datum":6.9}}},
{"data":{"name":"one"},"mark":{"type":"rule","color":"#222","strokeWidth":1},"encoding":{"x":{"datum":-0.15},"y":{"datum":5.11},"y2":{"datum":0.69}}},
{"data":{"name":"one"},"mark":{"type":"point","shape":"triangle-up","filled":true,"color":"black","size":110,"opacity":1},"encoding":{"x":{"datum":-0.15},"y":{"datum":5.11}}},
{"data":{"name":"one"},"mark":{"type":"text","text":"KLRG1","fontSize":10,"angle":270},"encoding":{"x":{"datum":-0.63},"y":{"datum":1.45}}},
{"data":{"name":"one"},"mark":{"type":"rule","color":"#222","strokeWidth":1},"encoding":{"x":{"datum":1.05},"x2":{"datum":10.67},"y":{"datum":-0.02}}},
{"data":{"name":"one"},"mark":{"type":"point","shape":"triangle-right","filled":true,"color":"black","size":110,"opacity":1},"encoding":{"x":{"datum":10.8},"y":{"datum":-0.02}}},
{"data":{"name":"one"},"mark":{"type":"text","text":"CD127","fontSize":9.5},"encoding":{"x":{"datum":1.82},"y":{"datum":-1.06}}}]},
{"width":80,"height":772,"layer":[
{"data":{"name":"e2"},"mark":{"type":"line","interpolate":"cardinal-closed"},"encoding":{"x":{"field":"x","type":"quantitative","scale":{"domain":[1,5.35],"range":[0,80],"nice":false,"zero":false},"axis":{"style":"flow","labelOverlap":false,"tickCount":30,"values":[1.55,2,3,4,5],"labelExpr":"datum.value<2?'0':'10'+['²','³','⁴','⁵'][datum.value-2]","title":null}},"y":{"field":"y","type":"quantitative","scale":{"domain":[1.07,5.5],"range":[772,691],"nice":false,"zero":false},"axis":{"style":"flow","labelOverlap":false,"tickCount":30,"values":[1.55,2,3,4,5],"labelExpr":"datum.value<2?'0':'10'+['²','³','⁴','⁵'][datum.value-2]","title":null}},"detail":{"field":"c"},"order":{"field":"o"},"strokeWidth":{"field":"l","type":"ordinal","scale":{"domain":[1,2],"range":[0.6,2.2]},"legend":null},"color":{"field":"l","type":"ordinal","scale":{"domain":[1,2],"range":["#555","#111"]},"legend":null}}},
{"data":{"name":"one"},"mark":{"type":"rect","filled":false,"stroke":"#111","strokeWidth":1.2},"encoding":{"x":{"datum":1},"x2":{"datum":5.35},"y":{"datum":1.07},"y2":{"datum":5.5}}},
{"data":{"name":"one"},"mark":{"type":"rule","color":"#333","strokeWidth":0.8},"encoding":{"x":{"datum":2.65},"y":{"datum":1.07},"y2":{"datum":5.5}}},
{"data":{"name":"one"},"mark":{"type":"rule","color":"#333","strokeWidth":0.8},"encoding":{"x":{"datum":1},"x2":{"datum":5.35},"y":{"datum":2.95}}},
{"data":{"values":[{"t":"32.1","x":1.64,"y":5.13},{"t":"51.1","x":4.73,"y":5.13},{"t":"0.842","x":1.6,"y":1.36},{"t":"16","x":4.9,"y":1.36}]},"mark":{"type":"text","fontWeight":"bold","fontSize":9.5},"encoding":{"text":{"field":"t"},"x":{"field":"x","type":"quantitative"},"y":{"field":"y","type":"quantitative"}}},
{"data":{"name":"one"},"mark":{"type":"text","text":"NK1.1⁺ CD8⁺","fontSize":11},"encoding":{"x":{"datum":3.3},"y":{"datum":5.93}}}]}]},

{"bounds":"flush","spacing":0,"resolve":{"scale":{"color":"independent"},"legend":{"color":"independent"}},"hconcat":[
{"width":67,"height":1,"data":{"name":"none"},"mark":"rect"},
{"width":305,"height":1001,"data":{"values":[{"d":7,"v":1370,"lo":1270,"hi":1470,"s":"NK1.1⁻ CD8⁺"},{"d":21,"v":2260,"lo":2190,"hi":2330,"s":"NK1.1⁻ CD8⁺"},{"d":40,"v":2620,"lo":2480,"hi":2770,"s":"NK1.1⁻ CD8⁺"},{"d":7,"v":710,"lo":590,"hi":830,"s":"NK1.1⁺ CD8⁺"},{"d":21,"v":970,"lo":860,"hi":1070,"s":"NK1.1⁺ CD8⁺"},{"d":40,"v":1010,"lo":910,"hi":1110,"s":"NK1.1⁺ CD8⁺"}]},"layer":[
{"mark":{"type":"line","strokeWidth":2},"encoding":{"x":{"field":"d","type":"quantitative","scale":{"domain":[0,50],"range":[0,121],"nice":false},"axis":{"values":[0,7,21,42],"tickCount":30,"title":"Days post LCMV infection","titleX":57,"titleFontSize":9,"titlePadding":7,"labelFontSize":8.5,"labelOverlap":false}},"y":{"field":"v","type":"quantitative","scale":{"domain":[0,3000],"range":[1001,894],"nice":false},"axis":{"values":[0,500,1000,1500,2000,2500,3000],"tickCount":30,"format":"d","title":["Relative intensity","(MFI)"],"titleFontSize":10,"titlePadding":6,"labelFontSize":8.5,"labelOverlap":false}},"color":{"field":"s","type":"nominal","scale":{"domain":["NK1.1⁻ CD8⁺","NK1.1⁺ CD8⁺"],"range":["#ee3a20","black"]},"legend":{"title":null,"orient":"none","legendX":135,"legendY":919,"symbolType":"stroke","symbolSize":64,"symbolStrokeWidth":6,"rowPadding":10,"labelOffset":8}}}},
{"mark":{"type":"rule","color":"black","strokeWidth":1},"encoding":{"x":{"field":"d","type":"quantitative"},"y":{"field":"lo","type":"quantitative"},"y2":{"field":"hi"}}},
{"mark":{"type":"tick","orient":"horizontal","size":6,"thickness":1,"color":"black","opacity":1},"encoding":{"x":{"field":"d","type":"quantitative"},"y":{"field":"lo","type":"quantitative"}}},
{"mark":{"type":"tick","orient":"horizontal","size":6,"thickness":1,"color":"black","opacity":1},"encoding":{"x":{"field":"d","type":"quantitative"},"y":{"field":"hi","type":"quantitative"}}},
{"transform":[{"filter":"datum.v>1200"}],"mark":{"type":"point","shape":"triangle-up","filled":true,"color":"black","size":22,"opacity":1},"encoding":{"x":{"field":"d","type":"quantitative"},"y":{"field":"v","type":"quantitative"}}},
{"transform":[{"filter":"datum.v<1200"}],"mark":{"type":"point","shape":"square","filled":true,"color":"black","size":22,"opacity":1},"encoding":{"x":{"field":"d","type":"quantitative"},"y":{"field":"v","type":"quantitative"}}},
{"data":{"values":[{"d":7,"v":1900,"t":"*"},{"d":21,"v":2620,"t":"* *"},{"d":40,"v":3020,"t":"* *"}]},"mark":{"type":"text","fontSize":10},"encoding":{"text":{"field":"t"},"x":{"field":"d","type":"quantitative"},"y":{"field":"v","type":"quantitative"}}},
{"data":{"name":"one"},"mark":{"type":"text","text":"TGF-βRII","fontSize":9.5},"encoding":{"x":{"datum":23},"y":{"datum":3420}}},
{"data":{"name":"one"},"mark":{"type":"text","text":"f","fontSize":25},"encoding":{"x":{"datum":-22.5},"y":{"datum":3520}}}]},
{"width":104,"height":1000,"data":{"values":[{"s":"neg","v":430,"e":470},{"s":"pos","v":1920,"e":2710}]},"layer":[
{"mark":{"type":"bar","stroke":"black","strokeWidth":1},"encoding":{"x":{"field":"s","type":"nominal","scale":{"domain":["neg","pos"],"range":[0,48],"paddingInner":0.25,"paddingOuter":0.13},"axis":{"labels":false,"ticks":false,"title":"Day 8","titleFontSize":10,"titlePadding":7}},"y":{"field":"v","type":"quantitative","stack":null,"scale":{"domain":[0,3000],"range":[1000,912],"nice":false},"axis":{"values":[0,1000,2000,3000],"tickCount":30,"format":"d","title":["Relative intensity","(MFI)"],"titleFontSize":10,"titlePadding":6,"labelFontSize":8.5,"labelOverlap":false}},"color":{"field":"s","type":"nominal","scale":{"domain":["neg","pos"],"range":["#f02a10","black"]},"legend":null}}},
{"mark":{"type":"rule","color":"#333","strokeWidth":1},"encoding":{"x":{"field":"s","type":"nominal"},"y":{"field":"v","type":"quantitative"},"y2":{"field":"e"}}},
{"mark":{"type":"tick","orient":"horizontal","size":8,"thickness":1,"color":"#333","opacity":1},"encoding":{"x":{"field":"s","type":"nominal"},"y":{"field":"e","type":"quantitative"}}},
{"data":{"values":[{"s":"neg","v":2900,"o":1},{"s":"neg","v":3170,"o":2},{"s":"pos","v":3170,"o":3},{"s":"pos","v":2900,"o":4}]},"mark":{"type":"line","color":"#111","strokeWidth":1.3},"encoding":{"x":{"field":"s","type":"nominal"},"y":{"field":"v","type":"quantitative"},"order":{"field":"o"}}},
{"data":{"name":"one"},"mark":{"type":"text","text":"*","fontSize":10,"dx":11},"encoding":{"x":{"datum":"neg"},"y":{"datum":3400}}},
{"data":{"name":"one"},"mark":{"type":"text","text":"Bcl-2","fontSize":9,"dx":11},"encoding":{"x":{"datum":"neg"},"y":{"datum":3920}}},
{"data":{"name":"one"},"mark":{"type":"text","text":"g","fontSize":25,"dx":-60},"encoding":{"x":{"datum":"neg"},"y":{"datum":4100}}}]},
{"width":167,"height":999,"data":{"values":[{"s":"neg","v":1150,"e":1300},{"s":"pos","v":640,"e":700}]},"layer":[
{"mark":{"type":"bar","stroke":"black","strokeWidth":1},"encoding":{"x":{"field":"s","type":"nominal","scale":{"domain":["neg","pos"],"range":[0,47],"paddingInner":0.25,"paddingOuter":0.13},"axis":{"labels":false,"ticks":false,"title":"Day 25","titleFontSize":10,"titlePadding":8}},"y":{"field":"v","type":"quantitative","stack":null,"scale":{"domain":[0,1500],"range":[999,912],"nice":false},"axis":{"values":[0,500,1000,1500],"tickCount":30,"format":"d","title":null,"labelFontSize":8.5,"labelOverlap":false}},"color":{"field":"s","type":"nominal","scale":{"domain":["neg","pos"],"range":["#f02a10","black"]},"legend":null}}},
{"mark":{"type":"rule","color":"#333","strokeWidth":1},"encoding":{"x":{"field":"s","type":"nominal"},"y":{"field":"v","type":"quantitative"},"y2":{"field":"e"}}},
{"mark":{"type":"tick","orient":"horizontal","size":8,"thickness":1,"color":"#333","opacity":1},"encoding":{"x":{"field":"s","type":"nominal"},"y":{"field":"e","type":"quantitative"}}},
{"data":{"values":[{"s":"neg","v":1480,"o":1},{"s":"neg","v":1620,"o":2},{"s":"pos","v":1620,"o":3},{"s":"pos","v":1480,"o":4}]},"mark":{"type":"line","color":"#111","strokeWidth":1.3},"encoding":{"x":{"field":"s","type":"nominal"},"y":{"field":"v","type":"quantitative"},"order":{"field":"o"}}},
{"data":{"name":"one"},"mark":{"type":"text","text":"*","fontSize":10,"dx":16},"encoding":{"x":{"datum":"neg"},"y":{"datum":1680}}},
{"data":{"name":"one"},"mark":{"type":"text","text":"Bcl-2","fontSize":9,"dx":8},"encoding":{"x":{"datum":"neg"},"y":{"datum":1980}}}]},
{"width":109,"height":995,"data":{"values":[{"s":"Day 15","v":178,"e":188},{"s":"Day 25","v":98,"e":112},{"s":"Day 40","v":233,"e":267}]},"layer":[
{"mark":{"type":"bar","color":"black"},"encoding":{"x":{"field":"s","type":"nominal","scale":{"domain":["Day 15","Day 25","Day 40"],"range":[0,109],"paddingInner":0.31,"paddingOuter":0.15},"axis":{"labelAngle":0,"ticks":false,"title":null,"labelFontSize":10,"labelPadding":8}},"y":{"field":"v","type":"quantitative","stack":null,"scale":{"domain":[0,300],"range":[995,902],"nice":false},"axis":{"values":[0,100,200,300],"tickCount":30,"title":["Relative intensity","(MFI)"],"titleFontSize":10,"titleY":937,"titlePadding":10,"labelFontSize":8.5,"labelOverlap":false}}}},
{"mark":{"type":"rule","color":"#111","strokeWidth":1.2},"encoding":{"x":{"field":"s","type":"nominal"},"y":{"field":"v","type":"quantitative"},"y2":{"field":"e"}}},
{"mark":{"type":"tick","orient":"horizontal","size":10,"thickness":1.2,"color":"#111","opacity":1},"encoding":{"x":{"field":"s","type":"nominal"},"y":{"field":"e","type":"quantitative"}}},
{"data":{"values":[{"s":"Day 15","v":229,"o":1,"b":1},{"s":"Day 15","v":252,"o":2,"b":1},{"s":"Day 25","v":252,"o":3,"b":1},{"s":"Day 25","v":229,"o":4,"b":1},{"s":"Day 25","v":287,"o":1,"b":2},{"s":"Day 25","v":313,"o":2,"b":2},{"s":"Day 40","v":313,"o":3,"b":2},{"s":"Day 40","v":287,"o":4,"b":2}]},"mark":{"type":"line","color":"#111","strokeWidth":1.3},"encoding":{"x":{"field":"s","type":"nominal"},"y":{"field":"v","type":"quantitative"},"order":{"field":"o"},"detail":{"field":"b"}}},
{"data":{"name":"one"},"mark":{"type":"text","text":"*","fontSize":10,"dx":-14},"encoding":{"x":{"datum":"Day 25"},"y":{"datum":268}}},
{"data":{"name":"one"},"mark":{"type":"text","text":"*","fontSize":10,"dx":20},"encoding":{"x":{"datum":"Day 25"},"y":{"datum":330}}},
{"data":{"name":"one"},"mark":{"type":"text","text":"CD122","fontSize":10},"encoding":{"x":{"datum":"Day 25"},"y":{"datum":374}}},
{"data":{"name":"one"},"mark":{"type":"text","text":"h","fontSize":25,"dx":-66},"encoding":{"x":{"datum":"Day 15"},"y":{"datum":390}}}]}]}
]}
